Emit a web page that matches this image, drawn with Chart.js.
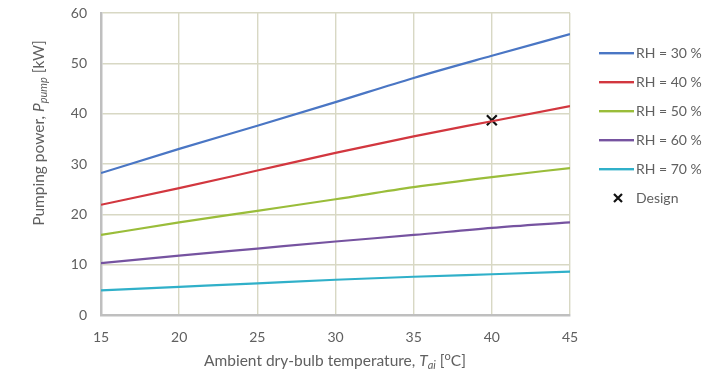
<!DOCTYPE html>
<html>
<head>
<meta charset="utf-8">
<script src="https://cdn.jsdelivr.net/npm/chart.js@4.4.1/dist/chart.umd.min.js"></script>
<style>
  html, body { margin: 0; padding: 0; background: #fff; }
  #wrap { width: 713px; height: 373px; position: relative; }
</style>
</head>
<body>
<div id="wrap"><canvas id="pumpChart"></canvas></div>
<script>
const temps = [15, 20, 25, 30, 35, 40, 45];
const rh30 = [28.2, 33.0, 37.6, 42.3, 47.1, 51.5, 55.8];
const rh40 = [21.9, 25.2, 28.7, 32.2, 35.5, 38.5, 41.5];
const rh50 = [15.9, 18.4, 20.7, 23.0, 25.4, 27.4, 29.2];
const rh60 = [10.3, 11.8, 13.2, 14.6, 15.9, 17.3, 18.4];
const rh70 = [4.9, 5.6, 6.3, 7.0, 7.6, 8.1, 8.6];
const seriesNames = ["RH = 30 %", "RH = 40 %", "RH = 50 %", "RH = 60 %", "RH = 70 %"];
const seriesColors = ["#4a76c4", "#d2373f", "#9abd3a", "#7653a0", "#30b0c9"];
const designX = [40];
const designY = [38.7];

const textGray = "#606060";
const fontFamily = "Lato, 'Open Sans', sans-serif";

// little canvases used as legend swatches
function lineSwatch(color) {
    const c = document.createElement("canvas");
    c.width = 41; c.height = 4;
    const g = c.getContext("2d");
    g.fillStyle = color;
    g.fillRect(6, 1, 35, 2.4);
    return c;
}
function crossSwatch() {
    const c = document.createElement("canvas");
    c.width = 21; c.height = 12;
    const g = c.getContext("2d");
    g.strokeStyle = "#111";
    g.lineWidth = 2.2;
    g.beginPath();
    g.moveTo(11, 2); g.lineTo(19, 10);
    g.moveTo(19, 2); g.lineTo(11, 10);
    g.stroke();
    return c;
}
const swatches = seriesColors.map(lineSwatch).concat([crossSwatch()]);

const seriesValues = [rh30, rh40, rh50, rh60, rh70];
const lineSets = seriesValues.map((vals, i) => ({
    type: "line",
    label: seriesNames[i],
    data: temps.map((t, j) => ({ x: t, y: vals[j] })),
    borderColor: seriesColors[i],
    backgroundColor: seriesColors[i],
    borderWidth: 2.2,
    pointRadius: 0,
    cubicInterpolationMode: "monotone",
    fill: false
}));

const designSet = {
    type: "scatter",
    label: "Design",
    data: designX.map((x, i) => ({ x: x, y: designY[i] })),
    pointStyle: "crossRot",
    pointRadius: 7,
    borderColor: "#111",
    backgroundColor: "#111",
    borderWidth: 2.2
};

// axis titles with italic / subscript parts
function drawRuns(ctx, runs, cx, cy, size) {
    const fontOf = r => (r.it ? "italic " : "") + ((r.sub || r.sup) ? Math.round(size * 0.68) : size) + "px " + fontFamily;
    let total = 0;
    runs.forEach(r => { ctx.font = fontOf(r); r.w = ctx.measureText(r.t).width; total += r.w; });
    let x = cx - total / 2;
    ctx.textBaseline = "middle";
    ctx.textAlign = "left";
    runs.forEach(r => {
        ctx.font = fontOf(r);
        const dy = r.sub ? size * 0.3 : (r.sup ? -size * 0.3 : 0);
        ctx.fillText(r.t, x, cy + dy);
        x += r.w;
    });
}

const axisTitles = {
    id: "axisTitles",
    afterDraw(chart) {
        const ctx = chart.ctx;
        ctx.save();
        ctx.fillStyle = textGray;
        drawRuns(ctx, [
            { t: "Ambient dry-bulb temperature, " },
            { t: "T", it: true },
            { t: "ai", it: true, sub: true },
            { t: " [" },
            { t: "o", sup: true },
            { t: "C]" }
        ], 335, 361, 15.5);
        ctx.translate(39, 133);
        ctx.rotate(-Math.PI / 2);
        drawRuns(ctx, [
            { t: "Pumping power, " },
            { t: "P", it: true },
            { t: "pump", it: true, sub: true },
            { t: " [kW]" }
        ], 0, 0, 15.5);
        ctx.restore();
    }
};

// move the legend a bit away from the plot and down
const legendNudge = {
    id: "legendNudge",
    afterLayout(chart) {
        const lg = chart.legend;
        lg.left = chart.chartArea.right + 13;
        lg.right = chart.width;
        lg.top = 31;
        lg.bottom = chart.height;
    }
};

new Chart(document.getElementById("pumpChart"), {
    data: { datasets: lineSets.concat([designSet]) },
    options: {
        responsive: true,
        maintainAspectRatio: false,
        animation: false,
        layout: { padding: { top: 13, right: 23, bottom: 0, left: 0 } },
        scales: {
            x: {
                type: "linear",
                min: 15, max: 45,
                ticks: { stepSize: 5, color: textGray, padding: 14, font: { family: fontFamily, size: 14 } },
                grid: { color: "#d8d8c4", lineWidth: 1.4, drawTicks: false },
                border: { color: "#bfbfbf", width: 2.5 },
                afterFit(scale) { scale.height = 58; }
            },
            y: {
                min: 0, max: 60,
                ticks: { stepSize: 10, color: textGray, padding: 0, font: { family: fontFamily, size: 14 } },
                grid: { color: "#d8d8c4", lineWidth: 1.4, drawTicks: true, tickLength: 14, tickColor: "rgba(0,0,0,0)" },
                border: { color: "#bfbfbf", width: 2.5 },
                afterFit(scale) { scale.width = 101; }
            }
        },
        plugins: {
            tooltip: { enabled: false },
            legend: {
                position: "right",
                align: "start",
                maxWidth: 120,
                labels: {
                    usePointStyle: true,
                    pointStyleWidth: 31,
                    padding: 15,
                    color: textGray,
                    font: { family: fontFamily, size: 14 },
                    generateLabels(chart) {
                        const items = Chart.defaults.plugins.legend.labels.generateLabels(chart);
                        items.forEach(it => { it.pointStyle = swatches[it.datasetIndex]; });
                        return items;
                    }
                }
            }
        }
    },
    plugins: [axisTitles, legendNudge]
});
</script>
</body>
</html>
